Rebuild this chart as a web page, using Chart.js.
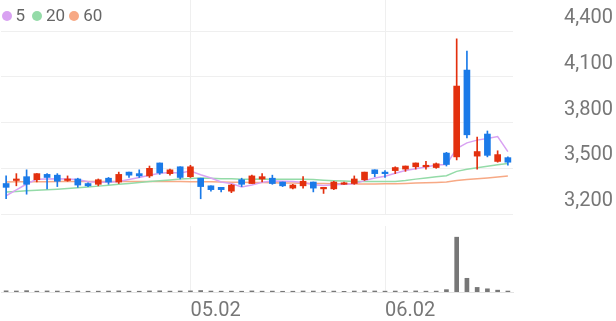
<!DOCTYPE html>
<html>
<head>
<meta charset="utf-8">
<script src="https://cdn.jsdelivr.net/npm/chart.js@4/dist/chart.umd.min.js"></script>
<style>
  html, body { margin: 0; padding: 0; background: #fff; }
  #wrap { position: relative; width: 616px; height: 321px; overflow: hidden; font-family: Roboto, sans-serif; }
  #price { position: absolute; left: 0; top: 0; }
  #volume { position: absolute; left: 0; top: 220px; }
  #legend { position: absolute; left: 1.5px; top: 6px; font-size: 17px; line-height: 18px; color: #666; white-space: nowrap; }
  #legend span.item:nth-child(1) { margin-right: 7px; }
  #legend span.item:nth-child(2) { margin-right: 4px; }
  #legend i { display: inline-block; width: 10px; height: 10px; border-radius: 50%; margin-right: 4px; }
</style>
</head>
<body>
<div id="wrap">
  <canvas id="price" width="616" height="218"></canvas>
  <canvas id="volume" width="616" height="110"></canvas>
  <div id="legend"></div>
</div>
<script>
const dates = [
  '04.07','04.08','04.09','04.10','04.11','04.14','04.15','04.16','04.17','04.18',
  '04.21','04.22','04.23','04.24','04.25','04.28','04.29','04.30','05.02','05.07',
  '05.08','05.09','05.12','05.13','05.14','05.15','05.16','05.19','05.20','05.21',
  '05.22','05.23','05.26','05.27','05.28','05.29','05.30','06.02','06.04','06.05',
  '06.09','06.10','06.11','06.12','06.13','06.16','06.17','06.18','06.19','06.20'
];
const opens = [
  3400,3420,3445,3425,3460,3455,3420,3430,3400,3395,
  3435,3410,3475,3465,3450,3535,3465,3510,3445,3435,
  3385,3375,3350,3425,3400,3430,3435,3410,3370,3385,
  3410,3365,3365,3395,3400,3425,3490,3475,3485,3495,
  3510,3510,3505,3600,3575,4145,3580,3725,3545,3570
];
const highs = [
  3450,3465,3490,3465,3465,3465,3450,3435,3405,3430,
  3440,3475,3475,3490,3515,3535,3495,3510,3520,3435,
  3385,3375,3395,3435,3455,3465,3455,3410,3395,3445,
  3410,3375,3415,3410,3450,3475,3490,3485,3510,3515,
  3535,3545,3535,3605,4350,4270,3705,3745,3615,3575
];
const lows = [
  3300,3385,3330,3410,3365,3380,3415,3375,3380,3385,
  3395,3400,3440,3440,3440,3460,3455,3430,3440,3300,
  3350,3345,3340,3380,3400,3410,3395,3380,3365,3370,
  3345,3335,3360,3395,3395,3420,3445,3440,3465,3480,
  3495,3495,3500,3515,3555,3700,3495,3575,3540,3520
];
const closes = [
  3375,3430,3395,3465,3440,3415,3430,3390,3385,3425,
  3410,3460,3455,3450,3500,3470,3490,3440,3510,3380,
  3360,3360,3390,3395,3450,3445,3400,3385,3390,3415,
  3370,3375,3410,3405,3430,3475,3465,3465,3505,3515,
  3535,3520,3530,3525,4040,3720,3610,3585,3590,3540
];
const ma5 = [
  3320,3358,3397,3428,3430,3432,3430,3426,3412,3409,
  3408,3414,3427,3440,3455,3467,3473,3470,3482,3458,
  3436,3410,3400,3377,3391,3408,3416,3415,3414,3407,
  3392,3387,3392,3395,3398,3419,3437,3448,3468,3485,
  3497,3508,3521,3525,3630,3667,3685,3696,3709,3609
];
const ma20 = [
  3345,3348,3352,3356,3359,3363,3367,3372,3377,3383,
  3389,3395,3401,3407,3413,3419,3424,3429,3433,3436,
  3435,3432,3431,3428,3428,3430,3428,3428,3428,3428,
  3426,3422,3419,3417,3414,3414,3413,3414,3414,3420,
  3429,3437,3444,3451,3480,3494,3504,3514,3524,3531
];
const ma60 = [
  3410,3411,3411,3412,3412,3413,3413,3413,3414,3414,
  3414,3414,3414,3414,3414,3413,3413,3413,3412,3412,
  3411,3410,3409,3408,3407,3406,3405,3404,3403,3402,
  3401,3400,3399,3398,3397,3397,3397,3398,3399,3401,
  3403,3405,3407,3410,3420,3426,3431,3437,3443,3449
];
// thousand shares
const volumes = [
  210,180,240,150,190,170,130,160,140,150,
  170,200,150,140,190,210,160,180,200,260,
  170,150,160,140,190,150,160,130,140,180,
  170,150,160,120,170,200,180,150,170,160,
  190,150,160,420,9800,2450,820,570,330,170
];
const yTicks = [3200, 3500, 3800, 4100, 4400];
const xTickLabels = ['05.02', '06.02'];

const maSeries = [
  { label: '5', data: ma5, color: '#d9a2f2' },
  { label: '20', data: ma20, color: '#94dba8' },
  { label: '60', data: ma60, color: '#f7a985' }
];

const UP = '#e3300e', DOWN = '#1a7ae8';
const candleColors = closes.map((c, i) => c >= opens[i] ? UP : DOWN);
const font = { family: 'Roboto', size: 20 };
const keepDateTicks = s => { s.ticks = s.ticks.filter(t => xTickLabels.includes(dates[t.value])); };

document.getElementById('legend').innerHTML = maSeries
  .map(m => `<span class="item"><i style="background:${m.color}"></i>${m.label}</span>`).join('');

new Chart(document.getElementById('price'), {
  type: 'bar',
  data: {
    labels: dates,
    datasets: [
      ...maSeries.map(m => ({
        type: 'line', label: m.label, data: m.data, borderColor: m.color,
        borderWidth: 1.5, pointRadius: 0, tension: 0, order: 3
      })),
      { label: 'wick', data: lows.map((l, i) => [l, highs[i]]), backgroundColor: candleColors,
        barThickness: 1, grouped: false, order: 1 },
      { label: 'body', data: opens.map((o, i) => [o, closes[i]]), backgroundColor: candleColors,
        barThickness: 6, grouped: false, order: 0 }
    ]
  },
  options: {
    responsive: false,
    animation: false,
    layout: { padding: { left: 1, right: 0, top: 0, bottom: 4 } },
    plugins: { legend: { display: false }, tooltip: { enabled: false } },
    scales: {
      x: {
        grid: { offset: false, color: '#efefef', drawTicks: false },
        border: { display: false },
        ticks: { display: false, autoSkip: false },
        afterBuildTicks: keepDateTicks
      },
      y: {
        position: 'right', min: 3200, max: 4605,
        grid: { color: '#efefef', drawTicks: false },
        border: { display: false },
        ticks: { color: '#777', font, padding: 51, labelOffset: -13,
                 callback: v => v.toLocaleString('en-US') },
        afterBuildTicks: s => { s.ticks = yTicks.map(v => ({ value: v })); },
        afterFit: s => { s.width = 103; s.paddingTop = 0; s.paddingBottom = 0; }
      }
    }
  }
});

new Chart(document.getElementById('volume'), {
  type: 'bar',
  data: {
    labels: dates,
    datasets: [{ label: 'volume', data: volumes, backgroundColor: '#777', barThickness: 4 }]
  },
  options: {
    responsive: false,
    animation: false,
    layout: { padding: { left: 1, right: 103, top: 6, bottom: 0 } },
    plugins: { legend: { display: false }, tooltip: { enabled: false } },
    scales: {
      x: {
        grid: { offset: false, color: '#efefef', drawTicks: false },
        border: { display: true, color: '#e3e3e3' },
        ticks: { align: 'start', color: '#777', font, padding: 7, maxRotation: 0, autoSkip: false },
        afterBuildTicks: keepDateTicks
      },
      y: { display: false, min: 0, max: 11800 }
    }
  }
});
</script>
</body>
</html>
